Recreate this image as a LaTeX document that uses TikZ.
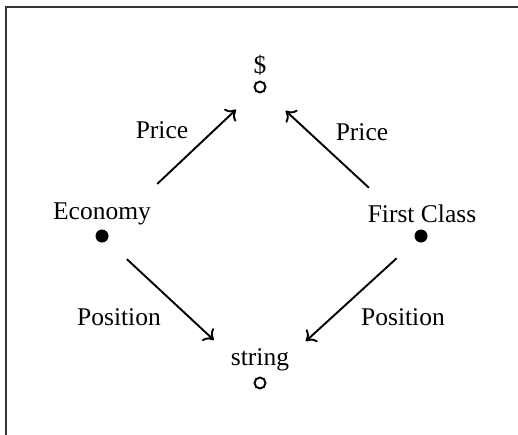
\documentclass[tikz,border=0pt]{standalone}
\usepackage{fontspec}
\setmainfont{Liberation Serif}
\usetikzlibrary{arrows.meta}
\tikzset{
  lbl/.style={anchor=base, inner sep=0pt, font=\fontsize{25.5}{30}\selectfont},
  fulldot/.style={circle, fill=black, inner sep=0pt, minimum size=13pt},
  opendot/.style={circle, draw=black, line width=1.9pt, inner sep=0pt, minimum size=11pt},
  conn/.style={line width=1.9pt, -{Computer Modern Rightarrow[length=9pt,width=17pt,line width=1.9pt]}},
  frame/.style={draw=black!80, line width=1.5pt}
}
\begin{document}
\begin{tikzpicture}[x=1pt,y=-1pt]
\useasboundingbox (0,0) rectangle (518,434);
\draw[frame] (6,450) -- (6,7) -- (530,7);
% nodes
\node[opendot] (dollar) at (260,87) {};
\node[fulldot] (eco) at (102,236) {};
\node[fulldot] (first) at (421,236) {};
\node[opendot] (str) at (260,383) {};
% texts
\node[lbl] (tdollar) at (260,73) {\$};
\node[lbl] (teco) at (102,219) {Economy};
\node[lbl] (tfirst) at (422,222) {First Class};
\node[lbl] (tstr) at (260,365) {string};
\node[lbl] (p1) at (162,138) {Price};
\node[lbl] (p2) at (362,140) {Price};
\node[lbl] (q1) at (119,325) {Position};
\node[lbl] (q2) at (403,325) {Position};
% connectors
\draw[conn, shorten <=76pt, shorten >=33pt] (eco.center) -- (dollar.center);
\draw[conn, shorten <=71pt, shorten >=35pt] (first.center) -- (dollar.center);
\draw[conn, shorten <=34pt, shorten >=63pt] (eco.center) -- (str.center);
\draw[conn, shorten <=33pt, shorten >=62pt] (first.center) -- (str.center);
\end{tikzpicture}
\end{document}
